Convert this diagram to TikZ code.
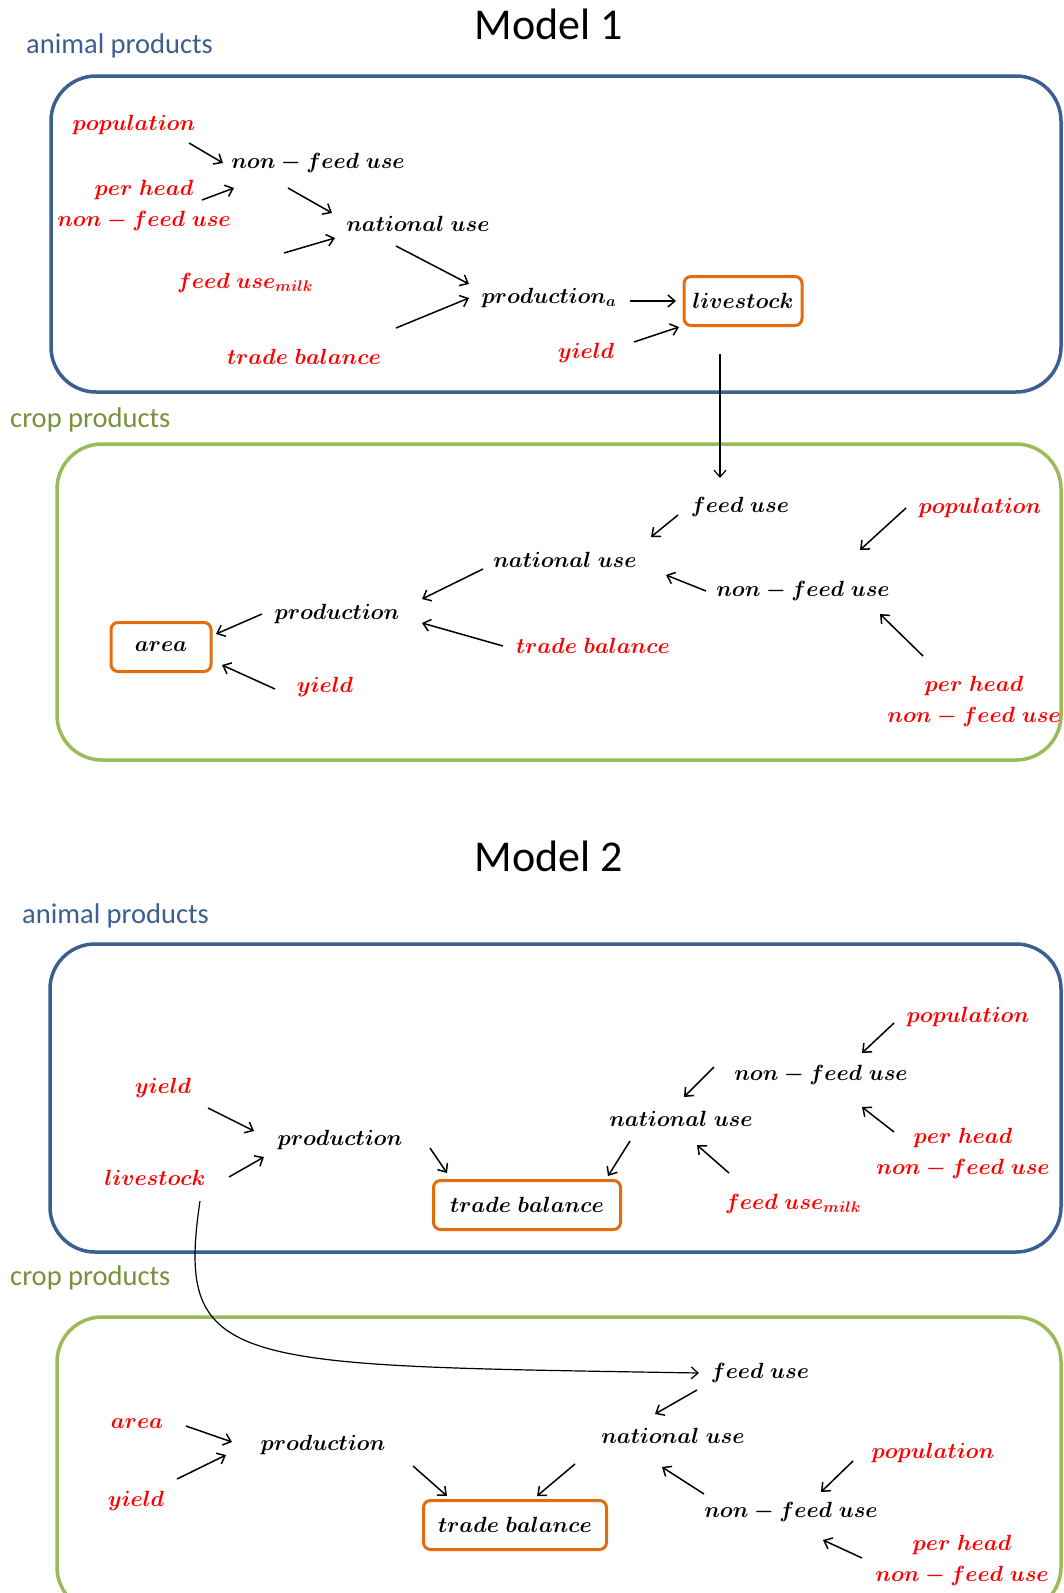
\RequirePackage{fix-cm}
\documentclass[tikz,border=0pt]{standalone}
\usepackage{fontspec}
\newfontfamily\calibrifont{Carlito}
\usetikzlibrary{arrows.meta}
\definecolor{animalblue}{RGB}{59,95,145}
\definecolor{cropgreen}{RGB}{155,187,89}
\definecolor{cropgreendark}{RGB}{118,146,60}
\definecolor{boxorange}{RGB}{228,108,10}
\definecolor{inputred}{RGB}{255,0,0}

\tikzset{
  var/.style={inner sep=0pt, align=center, font=\fontsize{22}{31}\selectfont\boldmath},
  input/.style={var, text=inputred},
  target/.style={var, draw=boxorange, line width=3pt, rounded corners=7pt, minimum height=49pt},
  arr/.style={-{Straight Barb[length=7pt,width=12pt]}, line width=1.5pt},
  link/.style={-{Straight Barb[length=7pt,width=12pt]}, line width=1.2pt},
  group/.style={line width=3.5pt, rounded corners=45pt},
  grouplabel/.style={anchor=west, inner sep=0pt, font=\calibrifont\fontsize{28.5}{34}\selectfont},
  modeltitle/.style={inner sep=0pt, font=\calibrifont\fontsize{44}{50}\selectfont},
}

\begin{document}
\begin{tikzpicture}[x=1pt, y=-1pt]
  \useasboundingbox (0,0) rectangle (1064,1593);

  % Model 1
  \node[modeltitle] (title1) at (549,24) {Model 1};
  \node[grouplabel, text=animalblue] (animal1) at (26,46) {animal products};
  \draw[group, animalblue] (51,76) rectangle (1061,392);
  \node[input] (pop1) at (134,125) {$population$};
  \node[var] (nf1) at (318,163) {$non-feed\ use$};
  \node[input] (ph1) at (144,205) {$per\ head$\\$non-feed\ use$};
  \node[var] (nu1) at (418,224) {$national\ use$};
  \node[input] (fm1) at (245,283) {$feed\ use_{milk}$};
  \node[var] (pa1) at (549,298) {$production_a$};
  \node[target, minimum width=118pt] (ls1) at (743,301) {$livestock$};
  \node[input] (tb1) at (304,357) {$trade\ balance$};
  \node[input] (yd1) at (586,353) {$yield$};
  \foreach \a/\ax/\ay/\b/\bx/\by in {pop1/55/18/nf1/-95/0, ph1/58/-5/nf1/-84/25,
      nf1/-30/25/nu1/-86/-11, fm1/39/-30/nu1/-83/14, nu1/-22/22/pa1/-80/-14,
      tb1/92/-29/pa1/-80/0, pa1/81/3/ls1/-67/0, yd1/48/-11/ls1/-64/26}
    \draw[arr] ([shift={(\ax,\ay)}]\a.center) -- ([shift={(\bx,\by)}]\b.center);

  \node[grouplabel, text=cropgreendark] (crop1) at (10,420) {crop products};
  \draw[group, cropgreen] (57,444) rectangle (1061,760);
  \node[var] (fu2) at (740,507) {$feed\ use$};
  \node[input] (pop2) at (980,508) {$population$};
  \node[var] (nu2) at (565,560) {$national\ use$};
  \node[var] (nf2) at (803,591) {$non-feed\ use$};
  \node[input] (ph2) at (974,701) {$per\ head$\\$non-feed\ use$};
  \node[var] (pr2) at (337,614) {$production$};
  \node[target, minimum width=100pt] (ar2) at (161,647) {$area$};
  \node[input] (tb2) at (593,646) {$trade\ balance$};
  \node[input] (yd2) at (325,687) {$yield$};
  \foreach \a/\ax/\ay/\b/\bx/\by in {fu2/-62/8/nu2/86/-23, pop2/-74/0/nf2/57/-41,
      nf2/-97/0/nu2/101/15, ph2/-51/-45/nf2/77/23, nu2/-82/9/pr2/85/-15,
      tb2/-90/0/pr2/85/9, pr2/-75/0/ar2/55/-13, yd2/-50/2/ar2/61/18}
    \draw[arr] ([shift={(\ax,\ay)}]\a.center) -- ([shift={(\bx,\by)}]\b.center);
  \draw[link] ([shift={(-23,53)}]ls1.center) -- ([shift={(-20,-29)}]fu2.center);

  % Model 2
  \node[modeltitle] (title2) at (549,856) {Model 2};
  \node[grouplabel, text=animalblue] (animal2) at (22,916) {animal products};
  \draw[group, animalblue] (50,944) rectangle (1061,1252);
  \node[input] (pop3) at (968,1017) {$population$};
  \node[var] (nf3) at (821,1075) {$non-feed\ use$};
  \node[input] (yd3) at (163,1088) {$yield$};
  \node[var] (nu3) at (681,1119) {$national\ use$};
  \node[var] (pr3) at (340,1140) {$production$};
  \node[input] (ph3) at (963,1153) {$per\ head$\\$non-feed\ use$};
  \node[input] (ls3) at (155,1178) {$livestock$};
  \node[target, minimum width=187pt] (tb3) at (527,1205) {$trade\ balance$};
  \node[input] (fm3) at (793,1204) {$feed\ use_{milk}$};
  \foreach \a/\ax/\ay/\b/\bx/\by in {yd3/45/20/pr3/-86/-9, ls3/74/-1/pr3/-76/17,
      pr3/90/8/tb3/-80/-32, nu3/-51/22/tb3/81/-29, nf3/-107/-8/nu3/3/-22,
      pop3/-74/6/nf3/41/-22, ph3/-69/-21/nf3/41/32, fm3/-64/-31/nu3/16/26}
    \draw[arr] ([shift={(\ax,\ay)}]\a.center) -- ([shift={(\bx,\by)}]\b.center);

  \node[grouplabel, text=cropgreendark] (crop2) at (10,1278) {crop products};
  \draw[group, cropgreen] (57,1317) rectangle (1061,1612);
  \node[var] (fu4) at (760,1373) {$feed\ use$};
  \node[input] (ar4) at (137,1424) {$area$};
  \node[var] (pr4) at (323,1445) {$production$};
  \node[var] (nu4) at (673,1436) {$national\ use$};
  \node[input] (pop4) at (933,1453) {$population$};
  \node[input] (yd4) at (136,1501) {$yield$};
  \node[var] (nf4) at (791,1512) {$non-feed\ use$};
  \node[target, minimum width=183pt] (tb4) at (515,1525) {$trade\ balance$};
  \node[input] (ph4) at (962,1560) {$per\ head$\\$non-feed\ use$};
  \foreach \a/\ax/\ay/\b/\bx/\by in {ar4/49/2/pr4/-91/-3, yd4/41/-22/pr4/-97/10,
      pr4/90/21/tb4/-68/-29, nu4/-98/28/tb4/22/-29, fu4/-63/17/nu4/-18/-22,
      nf4/-87/-18/nu4/-11/31, pop4/-80/8/nf4/30/-20, ph4/-100/-2/nf4/32/28}
    \draw[arr] ([shift={(\ax,\ay)}]\a.center) -- ([shift={(\bx,\by)}]\b.center);
  \draw[link] ([shift={(45,23)}]ls3.center) .. controls (175,1370) and (230,1365) .. ([shift={(-61,0)}]fu4.center);
\end{tikzpicture}
\end{document}
